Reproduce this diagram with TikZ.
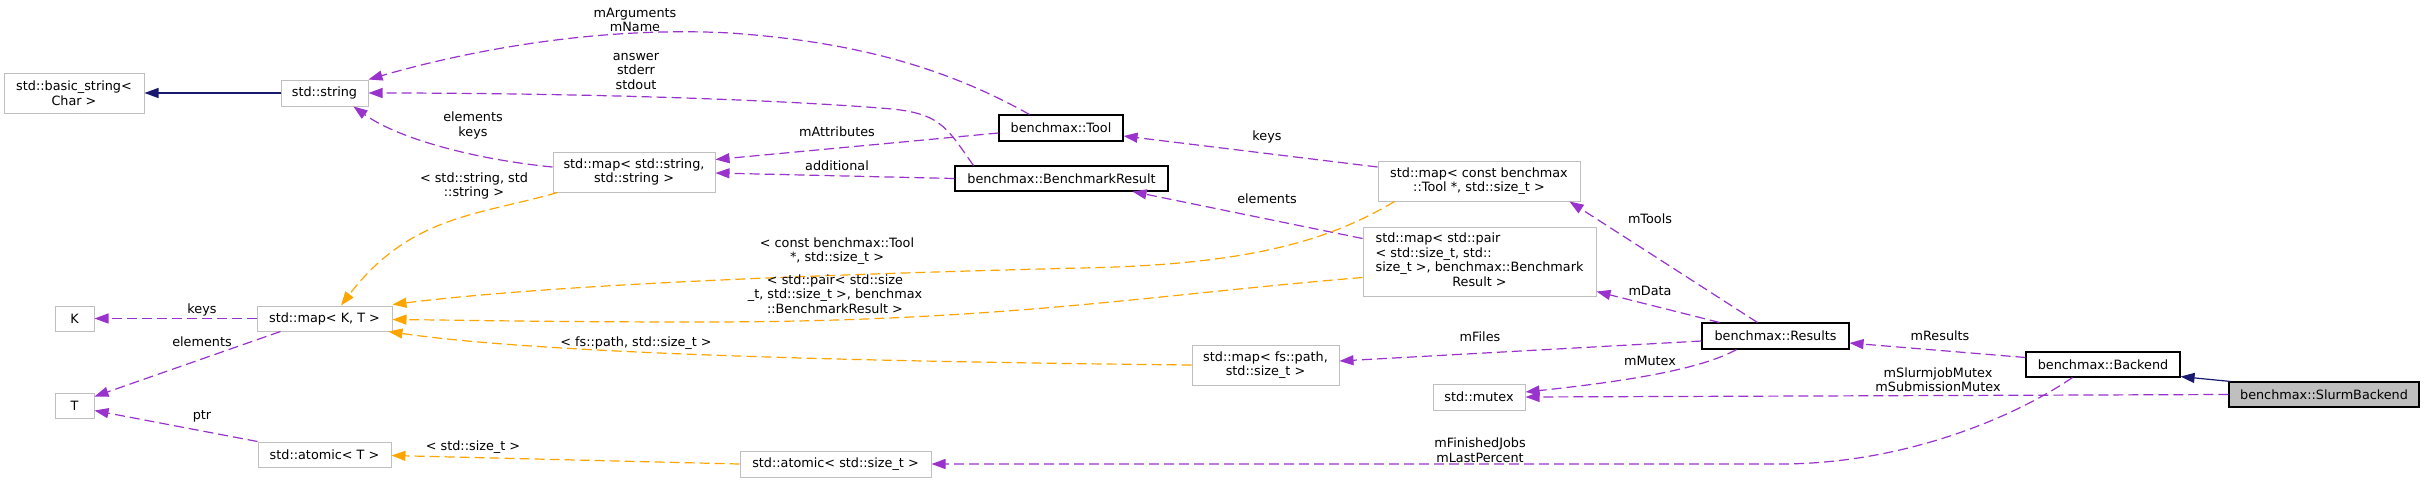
\documentclass[tikz,border=0pt]{standalone}
\usepackage{fontspec}
\setmainfont{DejaVu Sans}
\usetikzlibrary{arrows.meta,calc}
\definecolor{edgepurple}{HTML}{9A32CD}
\definecolor{edgeorange}{HTML}{FFA500}
\definecolor{edgenavy}{HTML}{191970}
\definecolor{boxgray}{HTML}{BFBFBF}
\begin{document}
\begin{tikzpicture}[x=1pt,y=-1pt,
  txt/.style={font=\fontsize{12.8}{14.5}\selectfont},
  cls/.style={txt, draw=boxgray, line width=1pt, fill=white, inner sep=0pt, align=center},
  doc/.style={cls, draw=black, line width=1.1pt},
  lbl/.style={txt, inner sep=0pt, align=center},
  tip/.style={-{Triangle[length=14pt,width=10pt]}},
  uses/.style={tip, color=edgepurple, line width=1.2pt, dash pattern=on 10pt off 5pt},
  tmpl/.style={tip, color=edgeorange, line width=1.2pt, dash pattern=on 10pt off 5pt},
  inh/.style={tip, color=edgenavy, line width=1.2pt}]
\useasboundingbox (0,0) rectangle (2425,483);
\fill[white] (0,0) rectangle (2425,483);

% nodes
\node[cls, minimum width=140pt, minimum height=40pt] (bstr) at (74,93) {std::basic\_string<\\Char >};
\node[cls, minimum width=87pt, minimum height=26pt] (str) at (324.5,93) {std::string};
\node[cls, minimum width=162pt, minimum height=40pt] (mapss) at (634,172) {std::map< std::string,\\std::string >};
\node[doc, minimum width=124pt, minimum height=26pt] (tool) at (1061,128) {benchmax::Tool};
\node[doc, minimum width=213pt, minimum height=25pt] (bres) at (1061.5,178.5) {benchmax::BenchmarkResult};
\node[cls, minimum width=202pt, minimum height=40pt] (mapct) at (1479,181) {std::map< const benchmax\\::Tool *, std::size\_t >};
\node[cls, minimum width=233pt, minimum height=69pt] (mappair) at (1479.5,261.5) {\begin{tabular}{@{}l@{}}std::map< std::pair\\< std::size\_t, std::\\size\_t >, benchmax::Benchmark\\\multicolumn{1}{@{}c@{}}{Result >}\end{tabular}};
\node[cls, minimum width=135pt, minimum height=25pt] (mapkt) at (324.5,318.5) {std::map< K, T >};
\node[cls, minimum width=39pt, minimum height=25pt] (K) at (74.5,318.5) {K};
\node[cls, minimum width=39pt, minimum height=25pt] (T) at (74.5,405.5) {T};
\node[cls, minimum width=133pt, minimum height=25pt] (atomT) at (324.5,454.5) {std::atomic< T >};
\node[cls, minimum width=147pt, minimum height=40pt] (mapfs) at (1265.5,365) {std::map< fs::path,\\std::size\_t >};
\node[cls, minimum width=191pt, minimum height=26pt] (atomsz) at (835.5,464) {std::atomic< std::size\_t >};
\node[cls, minimum width=92pt, minimum height=26pt] (mutex) at (1479,397) {std::mutex};
\node[doc, minimum width=147pt, minimum height=26pt] (results) at (1775.5,336) {benchmax::Results};
\node[doc, minimum width=154pt, minimum height=25pt] (backend) at (2103,364.5) {benchmax::Backend};
\node[doc, fill=boxgray, minimum width=190pt, minimum height=25pt] (slurm) at (2324,394.5) {benchmax::SlurmBackend};

% edges
\draw[inh] (str.west) -- (bstr.east);
\draw[uses] ($(tool.north west)+(31,0)$) .. controls (950,70) and (860,42) .. (730,33) .. controls (600,26) and (470,50) .. (str.north east);
\draw[uses] ($(bres.north west)+(19,0)$) .. controls (945,125) and (940,112) .. (880,108) .. controls (750,98) and (550,93) .. (str.east);
\draw[uses] ($(mapss.west)+(0,-5)$) .. controls (480,160) and (400,140) .. ($(str.south east)+(-15,0)$);
\draw[uses] ($(tool.west)+(0,5)$) -- ($(mapss.north east)+(0,8)$);
\draw[uses] (bres.west) -- ($(mapss.east)+(0,1)$);
\draw[tmpl] ($(mapss.south west)+(5,0)$) .. controls (480,215) and (410,215) .. ($(mapkt.north)+(16.5,0)$);
\draw[uses] ($(mapct.west)+(0,-14)$) -- ($(tool.east)+(0,8)$);
\draw[uses] ($(mappair.west)+(0,-23)$) -- ($(bres.south east)+(-36,0)$);
\draw[tmpl] ($(mapct.south west)+(17,0)$) .. controls (1330,240) and (1250,265) .. (1080,268) .. controls (800,275) and (550,285) .. ($(mapkt.east)+(0,-14)$);
\draw[tmpl] ($(mappair.west)+(0,16)$) .. controls (1150,295) and (1000,322) .. (700,322) .. controls (550,322) and (450,320) .. ($(mapkt.east)+(0,1)$);
\draw[tmpl] (mapfs.west) .. controls (900,362) and (550,355) .. ($(mapkt.south east)+(-4,0)$);
\draw[uses] (mapkt.west) -- (K.east);
\draw[uses] ($(mapkt.south west)+(24,0)$) -- ($(T.east)+(0,-9)$);
\draw[uses] (atomT.north west) -- ($(T.east)+(0,5)$);
\draw[tmpl] (atomsz.west) -- ($(atomT.east)+(0,1)$);
\draw[uses] ($(results.north west)+(56,0)$) -- ($(mapct.south east)+(-11,0)$);
\draw[uses] ($(results.north west)+(18,0)$) -- ($(mappair.south east)+(0,-5)$);
\draw[uses] ($(results.west)+(0,5)$) -- ($(mapfs.east)+(0,-4)$);
\draw[uses] ($(results.south west)+(35,0)$) .. controls (1700,370) and (1620,382) .. ($(mutex.east)+(0,-5)$);
\draw[uses] ($(backend.west)+(0,-7)$) -- ($(results.east)+(0,7)$);
\draw[inh] ($(slurm.north west)+(2,0)$) -- ($(backend.south east)+(0,-1)$);
\draw[uses] (slurm.west) -- (mutex.east);
\draw[uses] ($(backend.south west)+(47,0)$) .. controls (2010,420) and (1900,464) .. (1780,464) -- (atomsz.east);

% labels
\node[lbl] (l1) at (635,20) {mArguments\\mName};
\node[lbl] (l2) at (636,71.5) {answer\\stderr\\stdout};
\node[lbl] (l3) at (473,125.5) {elements\\keys};
\node[lbl] (l4) at (474,186) {< std::string, std\\::string >};
\node[lbl] (l5) at (837,132) {mAttributes};
\node[lbl] (l6) at (837,166) {additional};
\node[lbl] (l7) at (1267,137) {keys};
\node[lbl] (l8) at (1267,199) {elements};
\node[lbl] (l9) at (837,251) {< const benchmax::Tool\\*, std::size\_t >};
\node[lbl] (l10) at (835,294) {< std::pair< std::size\\\_t, std::size\_t >, benchmax\\::BenchmarkResult >};
\node[lbl] (l11) at (636,343) {< fs::path, std::size\_t >};
\node[lbl] (l12) at (202,310) {keys};
\node[lbl] (l13) at (202,342) {elements};
\node[lbl] (l14) at (202,416) {ptr};
\node[lbl] (l15) at (473,447) {< std::size\_t >};
\node[lbl] (l16) at (1650,219) {mTools};
\node[lbl] (l17) at (1650,291) {mData};
\node[lbl] (l18) at (1480,337) {mFiles};
\node[lbl] (l19) at (1650,361) {mMutex};
\node[lbl] (l20) at (1940,336) {mResults};
\node[lbl] (l21) at (1938,379.5) {mSlurmjobMutex\\mSubmissionMutex};
\node[lbl] (l22) at (1480,450) {mFinishedJobs\\mLastPercent};
\end{tikzpicture}
\end{document}
